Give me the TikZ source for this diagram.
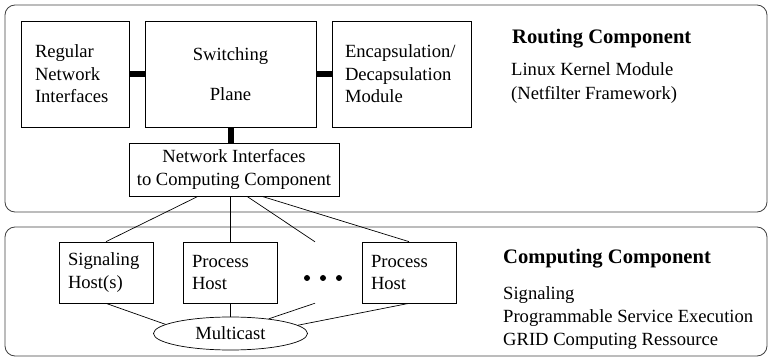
\documentclass[tikz,border=0pt]{standalone}
\usepackage{fontspec}
\setmainfont{Liberation Serif}
\usepackage{tikz}
\usetikzlibrary{shapes.geometric}
\tikzset{>=stealth}

\begin{document}
\begin{tikzpicture}[x=1pt,y=-1pt,
    font=\fontsize{18.6}{22.5}\selectfont,
    box/.style={draw,line width=0.7pt,inner ysep=0pt},
    lbox/.style={box,align=left,inner xsep=#1},
    link/.style={line width=6pt},
    wire/.style={line width=0.7pt},
    frame/.style={line width=0.8pt,black!75,rounded corners=10pt}]
  \useasboundingbox (0,0) rectangle (769,358);
  % the two components
  \draw[frame] (5,5) rectangle (767,212);
  \draw[frame] (5,227) rectangle (767,356);
  % routing part
  \node[lbox=14pt,text width=80pt,minimum height=106pt] (regular) at (75,74) {Regular\\Network\\Interfaces};
  \node[box,align=center,minimum width=171pt,minimum height=106pt] (switch) at (230.5,74) {Switching\\[17pt]Plane};
  \node[lbox=13pt,text width=113pt,minimum height=106pt] (encap) at (401.5,74) {Encapsulation/\\Decapsulation\\Module};
  \node[box,align=center,minimum width=210pt,minimum height=53pt] (ni) at (234,169.5) {Network Interfaces\\to Computing Component};
  \draw[link] (regular) -- (switch);
  \draw[link] (switch) -- (encap);
  \draw[link] (switch.south) -- (switch.south |- ni.north);
  % computing part
  \node[lbox=9pt,text width=76pt,minimum height=61pt] (sig) at (106,272.5) {Signaling\\Host(s)};
  \node[lbox=9pt,text width=76pt,minimum height=61pt] (proca) at (230,272.5) {Process\\Host};
  \node[lbox=9pt,text width=76pt,minimum height=61pt] (procb) at (409,272.5) {Process\\Host};
  \node[minimum height=61pt,minimum width=0pt,inner sep=0pt] (dots) at (315,272.5) {};
  \foreach \x in {307,323,339}
    \fill (\x,278) circle [radius=3pt];
  \node[ellipse,draw,line width=0.7pt,minimum width=154pt,minimum height=33pt,inner sep=0pt] (mc) at (230.5,333.5) {Multicast};
  \draw[wire] ([xshift=-36pt]ni.south) -- (sig.north);
  \draw[wire] (ni.south -| proca.north) -- (proca.north);
  \draw[wire] ([xshift=13pt]ni.south) -- (dots.north);
  \draw[wire] ([xshift=28pt]ni.south) -- (procb.north);
  \draw[wire] (sig.south) -- (mc.172);
  \draw[wire] (proca.south) -- (proca.south |- mc.north);
  \draw[wire] (dots.south) -- (mc.21);
  \draw[wire] (procb.south) -- (mc.7);
  % descriptions
  \node[anchor=base west,inner sep=0pt,font=\fontsize{20.6}{24}\selectfont\bfseries] (routing) at (512,44) {Routing Component};
  \node[anchor=north west,inner sep=0pt,align=left,font=\fontsize{18.6}{24}\selectfont] (routinfo) at (511,62) {Linux Kernel Module\\(Netfilter Framework)};
  \node[anchor=base west,inner sep=0pt,font=\fontsize{20.6}{24}\selectfont\bfseries] (computing) at (503,264) {Computing Component};
  \node[anchor=north west,inner sep=0pt,align=left,font=\fontsize{18.6}{23}\selectfont] (compinfo) at (503,286) {Signaling\\Programmable Service Execution\\GRID Computing Ressource};
\end{tikzpicture}
\end{document}
